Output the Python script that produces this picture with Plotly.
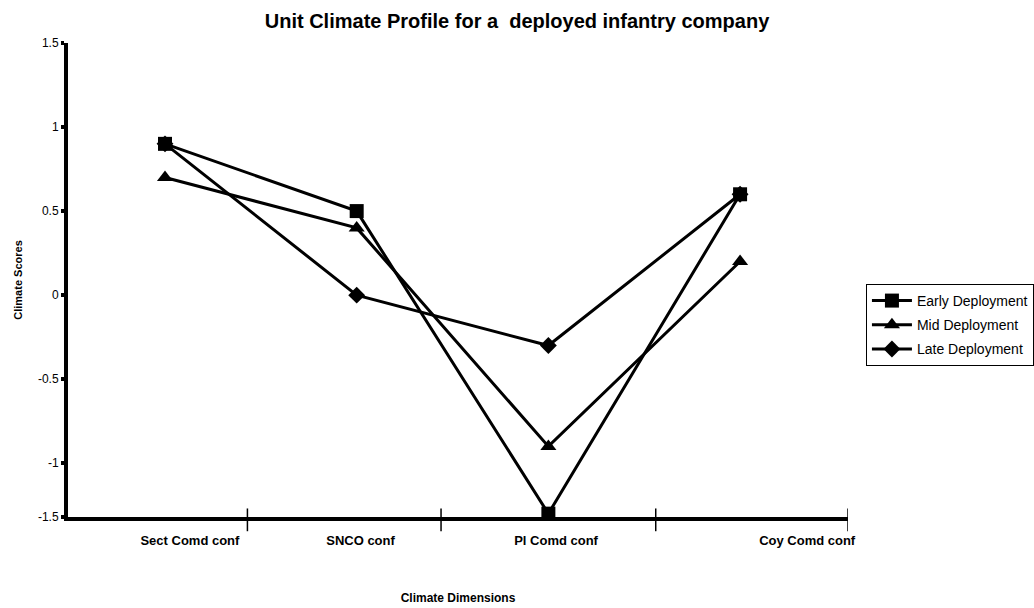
import plotly.graph_objects as go

# ---- data ----
categories = ["Sect Comd conf", "SNCO conf", "Pl Comd conf", "Coy Comd conf"]
cat_pos = [0, 1, 2, 3]
early = [0.9, 0.5, -1.3, 0.6]
mid = [0.7, 0.4, -0.9, 0.2]
late = [0.9, 0.0, -0.3, 0.6]

# axis tick labels / positions as drawn in the reference
x_label_pos = [0.13, 1.02, 2.04, 3.35]
x_tickmark_pos = [0.43, 1.44, 2.56, 3.563]
y_tick_vals = [-1.32, -1, -0.5, 0, 0.5, 1, 1.5]
y_tick_text = ["-1.5", "-1", "-0.5", "0", "0.5", "1", "1.5"]

FONT = "Arial, Liberation Sans, sans-serif"

fig = go.Figure()

series = [
    ("Late Deployment", late, "diamond", 13, 3),
    ("Mid Deployment", mid, "triangle-up", 14, 2),
    ("Early Deployment", early, "square", 14, 1),
]
for name, vals, sym, size, rank in series:
    fig.add_trace(go.Scatter(
        x=cat_pos, y=vals, name=name, mode="lines+markers",
        line=dict(color="black", width=3),
        marker=dict(symbol=sym, size=size, color="black"),
        legendrank=rank, legendgroup=name,
    ))

# tick marks crossing the x axis
for xv in x_tickmark_pos:
    fig.add_shape(type="line", xref="x", yref="paper",
                  x0=xv, x1=xv, y0=-0.03, y1=0.018,
                  line=dict(color="black", width=1.5))

fig.update_layout(
    width=1034, height=608, autosize=False,
    margin=dict(l=68, r=186, t=43, b=91, autoexpand=False),
    paper_bgcolor="white", plot_bgcolor="white",
    font=dict(family=FONT, color="black", size=11),
    title=dict(text="<b>Unit Climate Profile for a  deployed infantry company</b>",
               x=0.5, xref="container", xanchor="center",
               y=1 - 21 / 608, yref="container", yanchor="middle",
               font=dict(size=20, family=FONT, color="black")),
    showlegend=True,
    legend=dict(x=1.023, xanchor="left", y=0.4916, yanchor="top",
                bordercolor="black", borderwidth=1, bgcolor="white",
                font=dict(size=14, family=FONT, color="black"),
                traceorder="grouped", tracegroupgap=3,
                itemwidth=40),
    xaxis=dict(range=[-0.506, 3.563], showgrid=False, zeroline=False,
               showline=True, linecolor="black", linewidth=4,
               tickmode="array", tickvals=x_label_pos, ticktext=categories,
               ticks="", ticklabelstandoff=8, automargin=False,
               tickfont=dict(size=13, family=FONT, color="black", weight="bold"),
               title=dict(text="<b>Climate Dimensions</b>", standoff=48,
                          font=dict(size=12, family=FONT, color="black"))),
    yaxis=dict(range=[-1.32, 1.5], showgrid=False, zeroline=False,
               showline=True, linecolor="black", linewidth=4,
               tickmode="array", tickvals=y_tick_vals, ticktext=y_tick_text,
               ticks="outside", ticklen=3, tickwidth=4, tickcolor="black",
               automargin=False,
               tickfont=dict(size=12, family=FONT, color="black"),
               title=dict(text="<b>Climate Scores</b>", standoff=14,
                          font=dict(size=11, family=FONT, color="black"))),
)

fig.write_html("out.html",
               config={"displayModeBar": False},
               post_script="document.body.style.margin='0';document.body.style.padding='0';")
